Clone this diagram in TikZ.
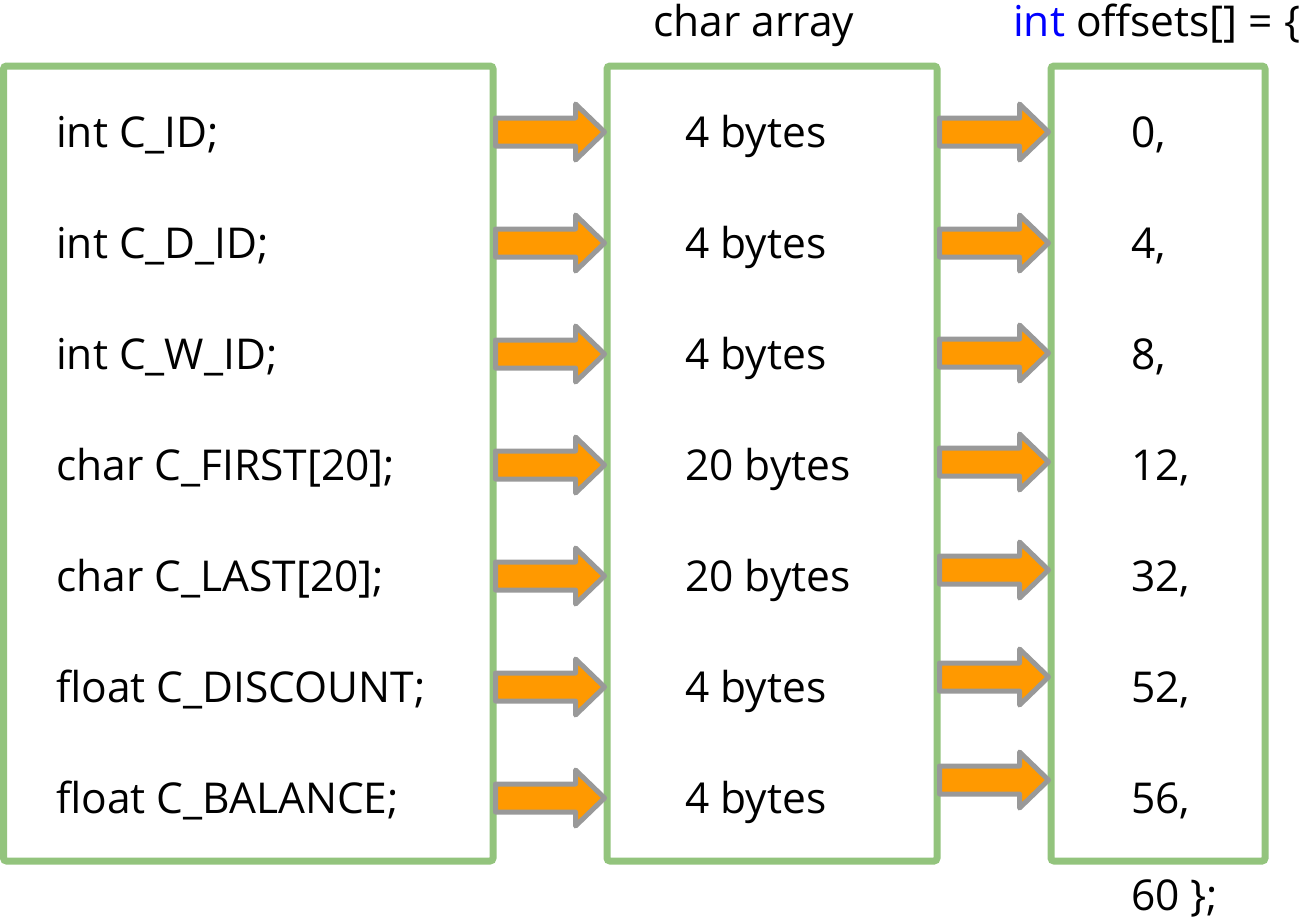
\documentclass[tikz,border=0pt]{standalone}
\usepackage{fontspec}
\setmainfont{Open Sans}
\usetikzlibrary{calc}
\definecolor{boxgreen}{HTML}{93C47D}
\definecolor{arrorange}{HTML}{FF9900}
\definecolor{arrgray}{HTML}{999999}
\definecolor{kwblue}{HTML}{0000FF}
\newcommand\blockarr[3]{%
  \path (#1.east |- 0,#3) coordinate (bs) (#2.west |- 0,#3) coordinate (bt);
  \draw[blkarrow] ($(bs)+(-1,-14)$) -- ($(bt)+(-28,-14)$) -- ($(bt)+(-28,-28)$) -- ($(bt)+(1,0)$)
     -- ($(bt)+(-28,28)$) -- ($(bt)+(-28,14)$) -- ($(bs)+(-1,14)$) -- cycle;}
\begin{document}
\begin{tikzpicture}[x=1pt,y=-1pt,
  panel/.style={draw=boxgreen,line width=7pt,rounded corners=3pt,inner sep=0pt,fill=white},
  blkarrow/.style={draw=arrgray,fill=arrorange,line width=5pt,line join=round},
  lbl/.style={anchor=base west,inner sep=0pt,font=\fontsize{42.5}{50}\selectfont}]
\useasboundingbox (0,0) rectangle (1303,922);
\fill[white] (0,0) rectangle (1303,922);
\node[panel,minimum width=489.5pt,minimum height=795pt] (left) at (248.25,463.5) {};
\node[panel,minimum width=330pt,minimum height=795pt] (mid) at (772,463.5) {};
\node[panel,minimum width=214pt,minimum height=795pt] (right) at (1158,463.5) {};
\foreach \y in {132,243,354,465,576,687,798} {\blockarr{left}{mid}{\y}}
\foreach \y in {132,243,353,462,570,677,780} {\blockarr{mid}{right}{\y}}
\node[lbl] (hmid) at (653,36) {char array};
\node[lbl] (hright) at (1013,36) {\textcolor{kwblue}{int} offsets[] = \{};
\node[lbl] (l1) at (56,147) {int C\_ID;};
\node[lbl] (l2) at (56,258) {int C\_D\_ID;};
\node[lbl] (l3) at (56,369) {int C\_W\_ID;};
\node[lbl] (l4) at (56,480) {char C\_FIRST[20];};
\node[lbl] (l5) at (56,591) {char C\_LAST[20];};
\node[lbl] (l6) at (56,702) {float C\_DISCOUNT;};
\node[lbl] (l7) at (56,813) {float C\_BALANCE;};
\node[lbl] (m1) at (685,147) {4 bytes};
\node[lbl] (m2) at (685,258) {4 bytes};
\node[lbl] (m3) at (685,369) {4 bytes};
\node[lbl] (m4) at (685,480) {20 bytes};
\node[lbl] (m5) at (685,591) {20 bytes};
\node[lbl] (m6) at (685,702) {4 bytes};
\node[lbl] (m7) at (685,813) {4 bytes};
\node[lbl] (r1) at (1131,147) {0,};
\node[lbl] (r2) at (1131,258) {4,};
\node[lbl] (r3) at (1131,369) {8,};
\node[lbl] (r4) at (1131,480) {12,};
\node[lbl] (r5) at (1131,591) {32,};
\node[lbl] (r6) at (1131,702) {52,};
\node[lbl] (r7) at (1131,813) {56,};
\node[lbl] (r8) at (1131,910) {60 \};};
\end{tikzpicture}
\end{document}
